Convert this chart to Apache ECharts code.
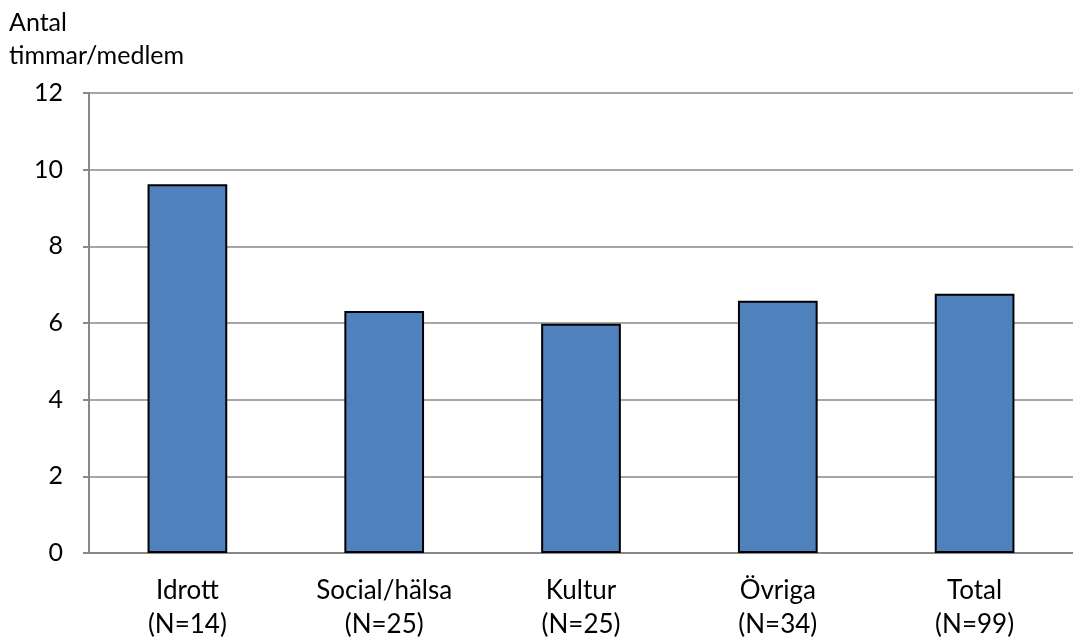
<!DOCTYPE html>
<html>
<head>
<meta charset="utf-8">
<script src="https://cdn.jsdelivr.net/npm/echarts@6/dist/echarts.min.js"></script>
<style>
    html, body { margin: 0; padding: 0; background: #fff; }
    #echarts { width: 1073px; height: 642px; }
</style>
</head>
<body>
<div id="echarts"></div>
<script>
var categories = ['Idrott\n(N=14)', 'Social/hälsa\n(N=25)', 'Kultur\n(N=25)', 'Övriga\n(N=34)', 'Total\n(N=99)'];
var hours = [9.62, 6.31, 5.98, 6.58, 6.76];
var yTicks = [0, 2, 4, 6, 8, 10, 12];

var myChart = echarts.init(document.getElementById('echarts')),
    option = {
        animation: false,
        textStyle: { fontFamily: 'Lato' },
        grid: {
            left: 89,
            right: -10,
            top: 93,
            bottom: 87
        },
        xAxis: {
            type: 'category',
            data: categories,
            axisLine: { lineStyle: { color: '#888888', width: 2 } },
            axisTick: { show: false },
            axisLabel: {
                color: '#000',
                fontSize: 26,
                lineHeight: 34,
                margin: 21
            }
        },
        yAxis: {
            type: 'value',
            min: yTicks[0],
            max: yTicks[yTicks.length - 1],
            interval: 2,
            name: 'Antal\ntimmar/medlem',
            nameLocation: 'end',
            nameGap: 21,
            nameTextStyle: {
                color: '#000',
                fontSize: 25,
                lineHeight: 33,
                align: 'left',
                padding: [0, 0, 0, -80]
            },
            axisLine: { show: true, lineStyle: { color: '#888888', width: 2 } },
            axisTick: { show: true, inside: false, length: 6, lineStyle: { color: '#888888', width: 2 } },
            axisLabel: {
                color: '#000',
                fontSize: 25,
                margin: 26
            },
            splitLine: { lineStyle: { color: '#a6a6a6', width: 2 } }
        },
        series: [
            {
                type: 'bar',
                data: hours,
                barWidth: '40.5%',
                itemStyle: {
                    color: '#4f81bd',
                    borderColor: '#000',
                    borderWidth: 2
                }
            }
        ]
    };

myChart.setOption(option);
</script>
</body>
</html>
